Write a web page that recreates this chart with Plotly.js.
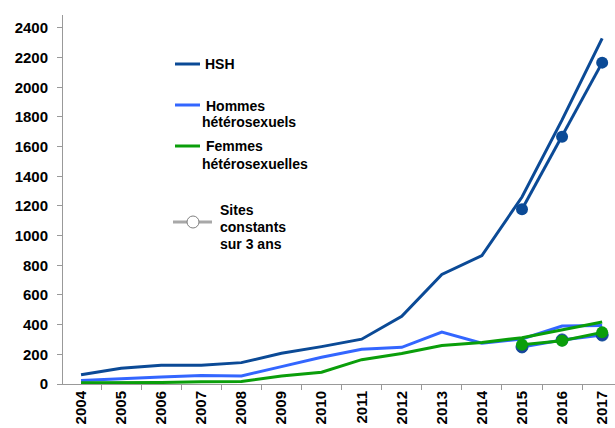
<!DOCTYPE html>
<html>
<head>
<meta charset="utf-8">
<script src="https://cdn.plot.ly/plotly-3.0.1.min.js"></script>
<style>html,body{margin:0;padding:0;background:#fff;}#chart{width:615px;height:428px;}</style>
</head>
<body>
<div id="chart"></div>
<script>
var years = ['2004','2005','2006','2007','2008','2009','2010','2011','2012','2013','2014','2015','2016','2017'];
var hsh = [62, 106, 126, 127, 144, 207, 252, 302, 456, 738, 866, 1260, 1780, 2330];
var hommes = [24, 37, 47, 57, 54, 117, 180, 234, 247, 350, 275, 303, 391, 395];
var femmes = [8, 8, 10, 15, 17, 54, 79, 164, 205, 260, 280, 312, 364, 418];
var constYears = ['2015','2016','2017'];
var hshConst = [1178, 1667, 2166];
var hommesConst = [250, 297, 330];
var femmesConst = [265, 292, 348];
var yTicks = [0,200,400,600,800,1000,1200,1400,1600,1800,2000,2200,2400];
var legendLines = [
  ['HSH', 205, 64],
  ['Hommes', 206, 106],
  ['hétérosexuels', 202, 122],
  ['Femmes', 206, 146],
  ['hétérosexuelles', 202, 164],
  ['Sites', 220, 210],
  ['constants', 220, 227],
  ['sur 3 ans', 220, 244]
];

var cHSH = '#0B4A96', cHom = '#3366FF', cFem = '#0A9E0A';
var FONT = {family: 'Liberation Sans, Arial, sans-serif', size: 14, color: '#000'};
var TICKFONT = {family: 'Liberation Sans, Arial, sans-serif', size: 15, color: '#000', weight: 'bold'};

var traces = [
  {x: years, y: hsh, type: 'scatter', mode: 'lines', line: {color: cHSH, width: 3}, hoverinfo: 'skip'},
  {x: years, y: hommes, type: 'scatter', mode: 'lines', line: {color: cHom, width: 3}, hoverinfo: 'skip'},
  {x: years, y: femmes, type: 'scatter', mode: 'lines', line: {color: cFem, width: 3}, hoverinfo: 'skip'},
  {x: constYears, y: hshConst, type: 'scatter', mode: 'lines+markers', line: {color: cHSH, width: 3}, marker: {color: cHSH, size: 12}, cliponaxis: false},
  {x: constYears, y: hommesConst, type: 'scatter', mode: 'lines+markers', line: {color: cHom, width: 3}, marker: {color: '#1E3F9E', size: 12, line: {color: cHSH, width: 1}}, cliponaxis: false},
  {x: constYears, y: femmesConst, type: 'scatter', mode: 'lines+markers', line: {color: cFem, width: 3}, marker: {color: cFem, size: 12}, cliponaxis: false}
];

function px2x(px){ return (px - 63) / 552; }
function py2y(py){ return (384 - py) / 369; }

var shapes = [
  {type: 'line', xref: 'paper', yref: 'paper', x0: px2x(175), x1: px2x(200), y0: py2y(64), y1: py2y(64), line: {color: cHSH, width: 3}},
  {type: 'line', xref: 'paper', yref: 'paper', x0: px2x(175), x1: px2x(200), y0: py2y(105), y1: py2y(105), line: {color: cHom, width: 3}},
  {type: 'line', xref: 'paper', yref: 'paper', x0: px2x(175), x1: px2x(200), y0: py2y(146), y1: py2y(146), line: {color: cFem, width: 3}},
  {type: 'line', xref: 'paper', yref: 'paper', x0: px2x(173), x1: px2x(212), y0: py2y(222), y1: py2y(222), line: {color: '#A8A8A8', width: 3}},
  {type: 'circle', xref: 'paper', yref: 'paper', x0: px2x(187), x1: px2x(199), y0: py2y(216), y1: py2y(228), fillcolor: '#fff', line: {color: '#808080', width: 1}}
];

var annotations = legendLines.map(function (l) {
  return {xref: 'paper', yref: 'paper', x: px2x(l[1] - 2), y: py2y(l[2]), text: '<b>' + l[0] + '</b>', showarrow: false,
          xanchor: 'left', yanchor: 'middle', align: 'left', width: 140, font: FONT};
});

var layout = {
  width: 615, height: 428,
  margin: {l: 63, r: 0, t: 15, b: 44, pad: 0},
  paper_bgcolor: '#fff', plot_bgcolor: '#fff',
  showlegend: false,
  xaxis: {
    type: 'category', range: [-0.45, 13.32], tickson: 'boundaries',
    ticks: 'outside', ticklen: 5, tickcolor: '#999', tickwidth: 1,
    showline: true, linecolor: '#999', linewidth: 1,
    showgrid: false, zeroline: false, tickangle: -90, tickfont: TICKFONT,
    fixedrange: true
  },
  yaxis: {
    range: [0, 2487], tickmode: 'array', tickvals: yTicks, ticktext: yTicks.map(String),
    ticks: 'outside', ticklen: 5, tickcolor: '#999', tickwidth: 1,
    showline: true, linecolor: '#999', linewidth: 1,
    showgrid: false, zeroline: false, tickfont: TICKFONT, ticklabelstandoff: 6,
    fixedrange: true
  },
  shapes: shapes,
  annotations: annotations
};

Plotly.newPlot('chart', traces, layout, {staticPlot: true, displayModeBar: false});
</script>
</body>
</html>
